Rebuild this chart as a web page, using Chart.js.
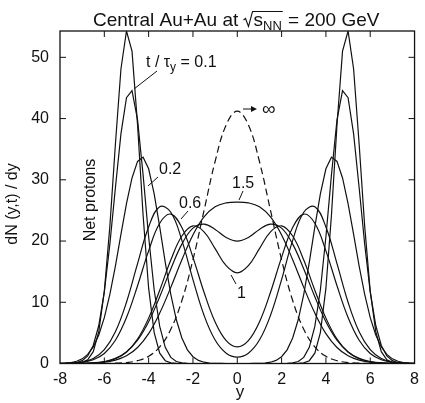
<!DOCTYPE html>
<html><head><meta charset="utf-8">
<script src="https://cdn.jsdelivr.net/npm/chart.js@4/dist/chart.umd.min.js"></script>
<style>html,body{margin:0;padding:0;background:#fff}#wrap{width:425px;height:403px;position:relative}</style>
</head><body><div id="wrap"><canvas id="c" width="425" height="403"></canvas></div>
<script>
// rapidity grids
const xFine = [-8,-7.75,-7.5,-7.25,-7,-6.75,-6.5,-6.25,-6,-5.75,-5.5,-5.25,-5,-4.75,-4.5,-4.25,-4,-3.75,-3.5,-3.25,-3,-2.75,-2.5,-2.25,-2,-1.75,-1.5,-1.25,-1,-0.75,-0.5,-0.25,0,0.25,0.5,0.75,1,1.25,1.5,1.75,2,2.25,2.5,2.75,3,3.25,3.5,3.75,4,4.25,4.5,4.75,5,5.25,5.5,5.75,6,6.25,6.5,6.75,7,7.25,7.5,7.75,8];
const xCoarse = [-8,-7.5,-7,-6.5,-6,-5.5,-5,-4.5,-4,-3.5,-3,-2.5,-2,-1.5,-1,-0.5,0,0.5,1,1.5,2,2.5,3,3.5,4,4.5,5,5.5,6,6.5,7,7.5,8];

// dN/dy of net protons
const t010 = [0,0,0.01,0.04,0.16,0.61,1.94,5.2,11.8,22.4,35.8,48.1,54.3,51.0,39.0,24.2,12.3,5.05,1.69,0.46,0.1,0.02,0,0,0,0,0,0,0,0,0,0,
  0,
  0,0,0,0,0,0,0,0,0,0,0.02,0.1,0.46,1.69,5.05,12.3,24.2,39.0,51.0,54.3,48.1,35.8,22.4,11.8,5.2,1.94,0.61,0.16,0.04,0.01,0,0];
const t015 = [0,0.01,0.05,0.15,0.46,1.23,2.94,6.2,11.7,19.5,28.7,37.5,43.4,44.55,39.8,30.8,20.7,12.0,6.06,2.64,1.0,0.33,0.09,0.02,0,0,0,0,0,0,0,0,
  0,
  0,0,0,0,0,0,0,0,0.02,0.09,0.33,1.0,2.64,6.06,12.0,20.7,30.8,39.8,44.55,43.4,37.5,28.7,19.5,11.7,6.2,2.94,1.23,0.46,0.15,0.05,0.01,0];
const t020 = [0.03,0.07,0.16,0.36,0.76,1.48,2.71,4.66,7.49,11.3,15.9,21.1,26.1,30.3,33.0,33.7,31.8,27.7,22.3,16.5,11.3,7.14,4.16,2.23,1.11,0.51,0.21,0.08,0.03,0.01,0,0,
  0,
  0,0,0.01,0.03,0.08,0.21,0.51,1.11,2.23,4.16,7.14,11.3,16.5,22.3,27.7,31.8,33.7,33.0,30.3,26.1,21.1,15.9,11.3,7.49,4.66,2.71,1.48,0.76,0.36,0.16,0.07,0.03];
const t040 = [0.01,0.07,0.25,0.82,2.25,5.18,10.0,16.3,22.3,25.6,24.7,20.1,13.7,7.87,3.83,1.69,1.05,1.69,3.83,7.87,13.7,20.1,24.7,25.6,22.3,16.3,10.0,5.18,2.25,0.82,0.25,0.07,0.01];
const t060 = [0.01,0.05,0.19,0.61,1.64,3.80,7.51,12.7,18.4,22.9,24.4,22.2,17.34,11.63,6.78,3.74,2.72,3.74,6.78,11.63,17.34,22.2,24.4,22.9,18.4,12.7,7.51,3.80,1.64,0.61,0.19,0.05,0.01];
const t100 = [0,0,0.02,0.09,0.28,0.77,1.88,4.0,7.41,11.97,16.89,20.82,22.48,21.5,18.75,15.97,14.8,15.97,18.75,21.5,22.48,20.82,16.89,11.97,7.41,4.0,1.88,0.77,0.28,0.09,0.02,0,0];
const t120 = [0,0.01,0.03,0.11,0.33,0.83,1.89,3.81,6.83,10.9,15.44,19.5,22.1,22.76,21.9,20.59,20.0,20.59,21.9,22.76,22.1,19.5,15.44,10.9,6.83,3.81,1.89,0.83,0.33,0.11,0.03,0.01,0];
const t150 = [0,0,0.02,0.07,0.21,0.54,1.25,2.61,4.87,8.23,12.43,16.94,21.0,23.94,25.59,26.23,26.37,26.23,25.59,23.94,21.0,16.94,12.43,8.23,4.87,2.61,1.25,0.54,0.21,0.07,0.02,0,0];
const tInf = [0,0,0,0,0.01,0.05,0.16,0.46,1.18,2.71,5.58,10.28,16.94,24.99,32.99,38.97,41.2,38.97,32.99,24.99,16.94,10.28,5.58,2.71,1.18,0.46,0.16,0.05,0.01,0,0,0,0];

const xTicksInner = [-6,-4,-2,0,2,4,6];
const yTicksInner = [10,20,30,40,50];

const FONT = '"Liberation Sans", Arial, Helvetica, sans-serif';
const INK = '#111';

function pts(xs, ys){ return xs.map((x,i)=>({x:x, y:ys[i]})); }
function ds(xs, ys, opts){
  return Object.assign({data:pts(xs,ys), borderColor:INK, borderWidth:1.2, pointRadius:0, showLine:true, fill:false, tension:0}, opts||{});
}

const frame = {
  id:'frame',
  afterDatasetsDraw(chart){
    const ctx = chart.ctx, a = chart.chartArea, sx = chart.scales.x, sy = chart.scales.y;
    ctx.save();
    ctx.strokeStyle = INK; ctx.lineWidth = 1.3;
    ctx.strokeRect(a.left, a.top, a.right-a.left, a.bottom-a.top);
    ctx.lineWidth = 1;
    ctx.beginPath();
    xTicksInner.forEach(v=>{ const p = sx.getPixelForValue(v);
      ctx.moveTo(p, a.bottom); ctx.lineTo(p, a.bottom-6);
      ctx.moveTo(p, a.top); ctx.lineTo(p, a.top+6); });
    yTicksInner.forEach(v=>{ const p = sy.getPixelForValue(v);
      ctx.moveTo(a.left, p); ctx.lineTo(a.left+6, p);
      ctx.moveTo(a.right, p); ctx.lineTo(a.right-6, p); });
    ctx.stroke();
    ctx.restore();
  }
};

const annot = {
  id:'annot',
  afterDraw(chart){
    const ctx = chart.ctx;
    ctx.save();
    ctx.fillStyle = INK; ctx.strokeStyle = INK; ctx.textAlign = 'left'; ctx.textBaseline = 'alphabetic';
    // main title
    let x = 93, yb = 26;
    ctx.font = '19px ' + FONT;
    const p1 = 'Central Au+Au at ';
    ctx.fillText(p1, x, yb); x += ctx.measureText(p1).width;
    const rx = x;
    const sx0 = rx + 10;
    ctx.fillText('s', sx0, yb);
    let x2 = sx0 + ctx.measureText('s').width;
    ctx.font = '13px ' + FONT;
    ctx.fillText('NN', x2, yb+4);
    x2 += ctx.measureText('NN').width;
    ctx.lineWidth = 1.1;
    ctx.beginPath();
    ctx.moveTo(rx, yb-6); ctx.lineTo(rx+2, yb-7.5); ctx.lineTo(rx+5, yb+0.5); ctx.lineTo(rx+9, yb-14.5); ctx.lineTo(x2+1, yb-14.5);
    ctx.stroke();
    ctx.font = '19px ' + FONT;
    ctx.fillText(' = 200 GeV', x2+1, yb);

    // y axis title
    ctx.save();
    ctx.translate(13, 204); ctx.rotate(-Math.PI/2);
    ctx.font = '16px ' + FONT; ctx.textAlign = 'center'; ctx.textBaseline = 'middle';
    ctx.fillText('dN (y,t) / dy', 0, 0);
    ctx.restore();
    // Net protons
    ctx.save();
    ctx.translate(91, 200); ctx.rotate(-Math.PI/2);
    ctx.font = '16px ' + FONT; ctx.textAlign = 'center'; ctx.textBaseline = 'middle';
    ctx.fillText('Net protons', 0, 0);
    ctx.restore();
    // x axis title
    ctx.font = '17px ' + FONT; ctx.textAlign = 'center';
    ctx.fillText('y', 240, 397);

    // curve labels
    ctx.textAlign = 'left';
    ctx.font = '16px ' + FONT;
    let lx = 146, lb = 67;
    ctx.fillText('t / \u03c4', lx, lb); lx += ctx.measureText('t / \u03c4').width;
    ctx.font = '12px ' + FONT; ctx.fillText('y', lx, lb+4); lx += ctx.measureText('y').width;
    ctx.font = '16px ' + FONT; ctx.fillText(' = 0.1', lx, lb);
    ctx.fillText('0.2', 159, 174);
    ctx.fillText('0.6', 179, 208);
    ctx.fillText('1.5', 232, 188);
    ctx.fillText('1', 237, 298);
    ctx.font = '19px ' + FONT;
    ctx.fillText('\u221e', 262, 115);
    // leader lines
    ctx.lineWidth = 1;
    ctx.beginPath();
    ctx.moveTo(157,71); ctx.lineTo(134,89);
    ctx.moveTo(158,177); ctx.lineTo(148,186);
    ctx.moveTo(188,211); ctx.lineTo(181,219);
    ctx.moveTo(243,191); ctx.lineTo(239,200);
    ctx.moveTo(236,284); ctx.lineTo(231,275);
    ctx.moveTo(243,109); ctx.lineTo(253,109);
    ctx.stroke();
    ctx.beginPath();
    ctx.moveTo(257,109); ctx.lineTo(251,106); ctx.lineTo(251,112); ctx.closePath(); ctx.fill();
    ctx.restore();
  }
};

new Chart(document.getElementById('c'), {
  type:'scatter',
  data:{ datasets:[
    ds(xFine, t010),
    ds(xFine, t015),
    ds(xFine, t020),
    ds(xCoarse, t040, {tension:0.4}),
    ds(xCoarse, t060, {tension:0.4}),
    ds(xCoarse, t100, {tension:0.4}),
    ds(xCoarse, t120, {tension:0.4}),
    ds(xCoarse, t150, {tension:0.4}),
    ds(xCoarse, tInf, {tension:0.4, borderDash:[7,4]})
  ]},
  options:{
    responsive:false, animation:false,
    layout:{padding:{left:0,right:4,top:31,bottom:0}},
    plugins:{legend:{display:false}, tooltip:{enabled:false}, title:{display:false}},
    scales:{
      x:{type:'linear', min:-8, max:8,
        grid:{display:false, drawTicks:false}, border:{display:false},
        ticks:{stepSize:2, color:INK, font:{family:FONT, size:16}, padding:6, maxRotation:0},
        afterFit(s){ s.height = 39.5; }},
      y:{type:'linear', min:0, max:54.3,
        grid:{display:false, drawTicks:false}, border:{display:false},
        ticks:{stepSize:10, includeBounds:false, color:INK, font:{family:FONT, size:16}, padding:11},
        afterFit(s){ s.width = 60; }}
    }
  },
  plugins:[frame, annot]
});
</script>
</body></html>
